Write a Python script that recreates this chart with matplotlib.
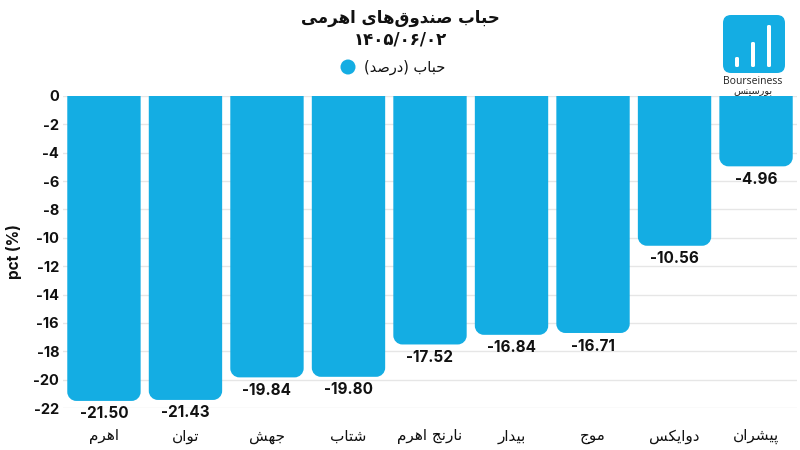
import matplotlib
matplotlib.use("Agg")
import matplotlib.pyplot as plt
from matplotlib.patches import FancyBboxPatch, PathPatch, Circle
from matplotlib.path import Path
import numpy as np

categories = ["اهرم", "توان", "جهش", "شتاب", "نارنج اهرم", "بیدار", "موج", "دوایکس", "پیشران"]
values = [-21.50, -21.43, -19.84, -19.80, -17.52, -16.84, -16.71, -10.56, -4.96]
yticks = list(range(0, -23, -2))
title_text = "حباب صندوق‌های اهرمی"
date_text = "۱۴۰۵/۰۶/۰۲"
legend_text = "حباب (درصد)"
ylabel_text = "pct (%)"

BLUE = "#14ADE3"

# --- simple Arabic/Persian shaping -> presentation forms, visual order ---
FORMS = {
    'ا': (0xFE8D, 0xFE8E, None, None), 'آ': (0xFE81, 0xFE82, None, None),
    'ب': (0xFE8F, 0xFE90, 0xFE91, 0xFE92), 'پ': (0xFB56, 0xFB57, 0xFB58, 0xFB59),
    'ت': (0xFE95, 0xFE96, 0xFE97, 0xFE98), 'ث': (0xFE99, 0xFE9A, 0xFE9B, 0xFE9C),
    'ج': (0xFE9D, 0xFE9E, 0xFE9F, 0xFEA0), 'چ': (0xFB7A, 0xFB7B, 0xFB7C, 0xFB7D),
    'ح': (0xFEA1, 0xFEA2, 0xFEA3, 0xFEA4), 'خ': (0xFEA5, 0xFEA6, 0xFEA7, 0xFEA8),
    'د': (0xFEA9, 0xFEAA, None, None), 'ذ': (0xFEAB, 0xFEAC, None, None),
    'ر': (0xFEAD, 0xFEAE, None, None), 'ز': (0xFEAF, 0xFEB0, None, None),
    'ژ': (0xFB8A, 0xFB8B, None, None),
    'س': (0xFEB1, 0xFEB2, 0xFEB3, 0xFEB4), 'ش': (0xFEB5, 0xFEB6, 0xFEB7, 0xFEB8),
    'ص': (0xFEB9, 0xFEBA, 0xFEBB, 0xFEBC), 'ض': (0xFEBD, 0xFEBE, 0xFEBF, 0xFEC0),
    'ط': (0xFEC1, 0xFEC2, 0xFEC3, 0xFEC4), 'ظ': (0xFEC5, 0xFEC6, 0xFEC7, 0xFEC8),
    'ع': (0xFEC9, 0xFECA, 0xFECB, 0xFECC), 'غ': (0xFECD, 0xFECE, 0xFECF, 0xFED0),
    'ف': (0xFED1, 0xFED2, 0xFED3, 0xFED4), 'ق': (0xFED5, 0xFED6, 0xFED7, 0xFED8),
    'ک': (0xFB8E, 0xFB8F, 0xFB90, 0xFB91), 'گ': (0xFB92, 0xFB93, 0xFB94, 0xFB95),
    'ل': (0xFEDD, 0xFEDE, 0xFEDF, 0xFEE0), 'م': (0xFEE1, 0xFEE2, 0xFEE3, 0xFEE4),
    'ن': (0xFEE5, 0xFEE6, 0xFEE7, 0xFEE8), 'و': (0xFEED, 0xFEEE, None, None),
    'ه': (0xFEE9, 0xFEEA, 0xFEEB, 0xFEEC), 'ی': (0xFBFC, 0xFBFD, 0xFBFE, 0xFBFF),
    'ي': (0xFEF1, 0xFEF2, 0xFEF3, 0xFEF4),
}
MIRROR = {'(': ')', ')': '('}


def shape(text):
    out = []
    n = len(text)
    for i, ch in enumerate(text):
        if ch not in FORMS:
            if ch == '\u200c':
                continue
            out.append(MIRROR.get(ch, ch))
            continue
        iso, fin, ini, med = FORMS[ch]
        prev = text[i - 1] if i > 0 else ''
        nxt = text[i + 1] if i + 1 < n else ''
        jp = prev in FORMS and FORMS[prev][2] is not None
        jn = ini is not None and nxt in FORMS
        if jp and jn:
            c = med
        elif jp:
            c = fin
        elif jn:
            c = ini
        else:
            c = iso
        out.append(chr(c))
    return ''.join(reversed(out))


plt.rcParams['font.family'] = ['Inter', 'DejaVu Sans']
fig = plt.figure(figsize=(8, 4.5), dpi=100)
ax = fig.add_axes([0.079, 0.0933, 0.917, 0.6934])

x = np.arange(len(categories))
width = 0.9
ax.set_xlim(-0.5, len(categories) - 0.5)
ax.set_ylim(-22, 0)

bars = ax.bar(x, values, width=width, color=BLUE, zorder=3)

# round the bottom corners of each bar
r_px = 9
ax_w_px = 0.917 * 800
ax_h_px = 0.6934 * 450
rx = r_px * len(categories) / ax_w_px
ry = r_px * 22 / ax_h_px
k = 0.5523
for b in bars:
    b.set_visible(False)
    x0, x1 = b.get_x(), b.get_x() + b.get_width()
    yb, yt = b.get_y() + b.get_height(), b.get_y()
    verts = [
        (x0, yt), (x0, yb + ry),
        (x0, yb + ry - k * ry), (x0 + rx - k * rx, yb), (x0 + rx, yb),
        (x1 - rx, yb),
        (x1 - rx + k * rx, yb), (x1, yb + ry - k * ry), (x1, yb + ry),
        (x1, yt), (x0, yt),
    ]
    codes = [Path.MOVETO, Path.LINETO, Path.CURVE4, Path.CURVE4, Path.CURVE4,
             Path.LINETO, Path.CURVE4, Path.CURVE4, Path.CURVE4, Path.LINETO, Path.CLOSEPOLY]
    ax.add_patch(PathPatch(Path(verts, codes), facecolor=BLUE, edgecolor='none', zorder=3))

for xi, v in zip(x, values):
    ax.annotate(f"{v:.2f}", (xi, v), xytext=(0, -4), textcoords='offset points',
                ha='center', va='top', fontsize=11, fontweight='bold', color='#111111',
                annotation_clip=False, zorder=4)

ax.set_yticks(yticks)
ax.set_yticklabels([str(t) for t in yticks], fontsize=10.5, fontweight='bold', color='#111111')
ax.set_xticks(x)
ax.set_xticklabels([shape(c) for c in categories], family=['DejaVu Sans'], fontsize=11, color='#111111')
ax.tick_params(axis='both', length=0)
ax.tick_params(axis='x', pad=15)
ax.tick_params(axis='y', pad=3)
for s in ax.spines.values():
    s.set_visible(False)
ax.grid(axis='y', color='#e6e6e6', linewidth=1, zorder=0)
ax.set_axisbelow(True)
ax.set_ylabel(ylabel_text, fontsize=11, fontweight='bold', color='#111111', labelpad=8)

# title
fig.text(0.5, 1 - 18 / 450, shape(title_text), ha='center', va='center', fontsize=12,
         fontweight='bold', family=['DejaVu Sans'], color='#111111')
fig.text(0.5, 1 - 40 / 450, date_text, ha='center', va='center', fontsize=12,
         fontweight='bold', family=['DejaVu Sans'], color='#111111')
# legend
fig.patches.append(Circle((3.48, 4.5 - 0.67), 0.075, transform=fig.dpi_scale_trans,
                          facecolor=BLUE, edgecolor='none'))
fig.text(364 / 800, 1 - 67 / 450, shape(legend_text), ha='left', va='center', fontsize=10.5,
         family=['DejaVu Sans'], color='#111111')

# logo (inch coordinates; 100 px per inch)
def px(xp, yp):
    return xp / 100, 4.5 - yp / 100

fig.patches.append(FancyBboxPatch(px(723, 73), 0.62, 0.58, boxstyle="round,pad=0,rounding_size=0.08",
                                  transform=fig.dpi_scale_trans, facecolor=BLUE, edgecolor='none'))
for bx, btop in [(735, 57), (751, 42), (767, 25)]:
    fig.patches.append(FancyBboxPatch(px(bx, 67), 0.04, (67 - btop) / 100,
                                      boxstyle="round,pad=0,rounding_size=0.015",
                                      transform=fig.dpi_scale_trans, facecolor='white', edgecolor='none'))
fig.text(753 / 800, 1 - 82 / 450, "Bourseiness", ha='center', va='center', fontsize=7.5,
         color='#222222', family=['Open Sans', 'DejaVu Sans'])
fig.text(753 / 800, 1 - 91 / 450, shape("بورسینس"), ha='center', va='center', fontsize=7,
         color='#222222', family=['DejaVu Sans'])

fig.savefig("out.png", dpi=100)
